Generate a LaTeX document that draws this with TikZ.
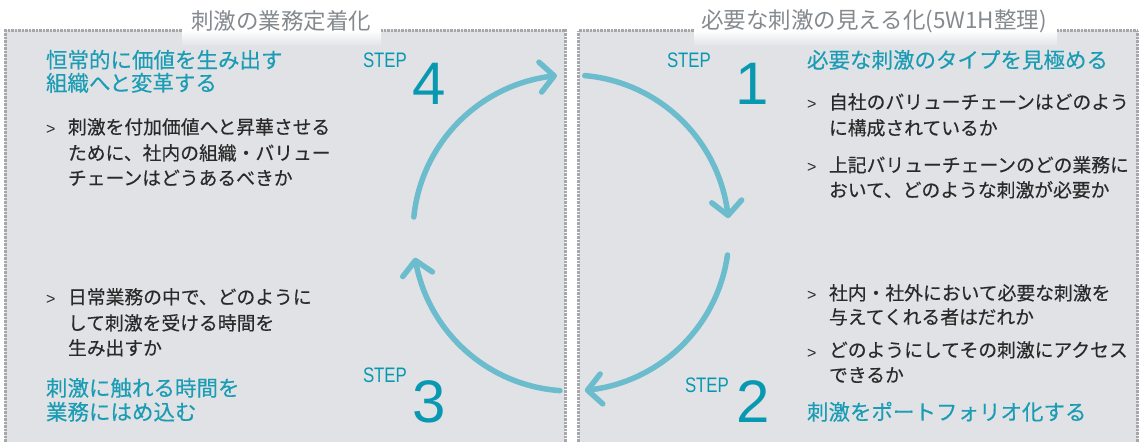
\documentclass[tikz,border=0pt]{standalone}
\usepackage{fontspec}
\setmainfont{Noto Sans CJK JP}
\newfontfamily\bodyf[FakeBold=0.35]{Noto Sans CJK JP}
\newfontfamily\headf[FakeBold=0.25]{Noto Sans CJK JP}
\newfontfamily\stepf[FakeStretch=0.8]{Liberation Sans}
\newfontfamily\numf{Liberation Sans}
\usetikzlibrary{arrows.meta,bending}
\definecolor{panel}{HTML}{E1E2E6}
\definecolor{bordergray}{HTML}{A6A7AA}
\definecolor{tealtxt}{HTML}{1A9DB4}
\definecolor{tealnum}{HTML}{0899B1}
\definecolor{arccol}{HTML}{6BBCCC}
\definecolor{bodytxt}{HTML}{2A2A2A}
\definecolor{titlegray}{HTML}{858A8F}
\begin{document}
\begin{tikzpicture}[x=1pt,y=1pt,
  txt/.style={anchor=base west,inner sep=0pt,outer sep=0pt},
  head/.style={txt,text=tealtxt,font=\headf\fontsize{21.5}{24}\selectfont},
  body/.style={txt,text=bodytxt,font=\bodyf\fontsize{18.8}{22}\selectfont},
  gt/.style={txt,text=bodytxt,font=\numf\fontsize{16}{18}\selectfont},
  steplbl/.style={txt,text=tealnum,font=\stepf\fontsize{21}{24}\selectfont},
  bignum/.style={txt,text=tealnum,font=\numf\fontsize{60}{60}\selectfont},
  ttl/.style={anchor=center,inner sep=0pt,text=titlegray,font=\fontsize{22.5}{24}\selectfont},
  bord/.style={draw=bordergray,line width=3pt,dash pattern=on 0.7pt off 0.7pt},
  cyc/.style={draw=arccol,line width=5.5pt,line cap=round,-{Straight Barb[length=14pt,width=30pt,round]}}
]
\useasboundingbox (0,0) rectangle (1140,442);
\fill[white] (0,0) rectangle (1140,442);
% panels
\fill[panel] (5,0) rectangle (565,411.5);
\fill[panel] (578.5,0) rectangle (1137.5,411.5);
\shade[top color=white,bottom color=panel] (182,411.5) rectangle (381,396);
\shade[top color=white,bottom color=panel] (694,411.5) rectangle (1057,396);
\draw[bord] (182,411.5) -- (5,411.5) -- (5,0);
\draw[bord] (381,411.5) -- (565,411.5) -- (565,0);
\draw[bord] (694,411.5) -- (578.5,411.5) -- (578.5,0);
\draw[bord] (1057,411.5) -- (1137.5,411.5) -- (1137.5,0);
% titles
\node[ttl] (t1) at (281,421) {刺激の業務定着化};
\node[ttl] (t2) at (874,421) {必要な刺激の見える化(5W1H整理)};
% cycle
\coordinate (c) at (571,209);
\draw[cyc] (c) ++(174.2:158) arc[start angle=174.2,end angle=95.1,radius=158];
\draw[cyc] (c) ++(85:158) arc[start angle=85,end angle=5.4,radius=158];
\draw[cyc] (c) ++(-8:158) arc[start angle=-8,end angle=-85,radius=158];
\draw[cyc] (c) ++(-94:158) arc[start angle=-94,end angle=-171,radius=158];
% step 4
\node[head] (h4a) at (46,374) {恒常的に価値を生み出す};
\node[head] (h4b) at (46,351) {組織へと変革する};
\node[steplbl] (s4) at (363,374) {STEP};
\node[bignum] (n4) at (412,337) {4};
\node[gt] (g4) at (46,307) {>};
\node[body] (b4a) at (68,308) {刺激を付加価値へと昇華させる};
\node[body] (b4b) at (68,282) {ために、社内の組織・バリュー};
\node[body] (b4c) at (68,257) {チェーンはどうあるべきか};
% step 3
\node[gt] (g3) at (46,137) {>};
\node[body] (b3a) at (68,138) {日常業務の中で、どのように};
\node[body] (b3b) at (68,112) {して刺激を受ける時間を};
\node[body] (b3c) at (68,87) {生み出すか};
\node[head] (h3a) at (46,46) {刺激に触れる時間を};
\node[head] (h3b) at (46,22) {業務にはめ込む};
\node[steplbl] (s3) at (363,60) {STEP};
\node[bignum] (n3) at (412,20) {3};
% step 1
\node[steplbl] (s1) at (667,374) {STEP};
\node[bignum] (n1) at (735,337) {1};
\node[head] (h1) at (807,374) {必要な刺激のタイプを見極める};
\node[gt] (g1a) at (807,332) {>};
\node[body] (b1a) at (829,333) {自社のバリューチェーンはどのよう};
\node[body] (b1b) at (829,307) {に構成されているか};
\node[gt] (g1b) at (807,269) {>};
\node[body] (b1c) at (829,270) {上記バリューチェーンのどの業務に};
\node[body] (b1d) at (829,245) {おいて、どのような刺激が必要か};
% step 2
\node[gt] (g2a) at (807,141) {>};
\node[body] (b2a) at (829,142) {社内・社外において必要な刺激を};
\node[body] (b2b) at (829,118) {与えてくれる者はだれか};
\node[gt] (g2b) at (807,84) {>};
\node[body] (b2c) at (829,85) {どのようにしてその刺激にアクセス};
\node[body] (b2d) at (829,60) {できるか};
\node[steplbl] (s2) at (685,50) {STEP};
\node[bignum] (n2) at (736,20) {2};
\node[head] (h2) at (807,22) {刺激をポートフォリオ化する};
\end{tikzpicture}
\end{document}
